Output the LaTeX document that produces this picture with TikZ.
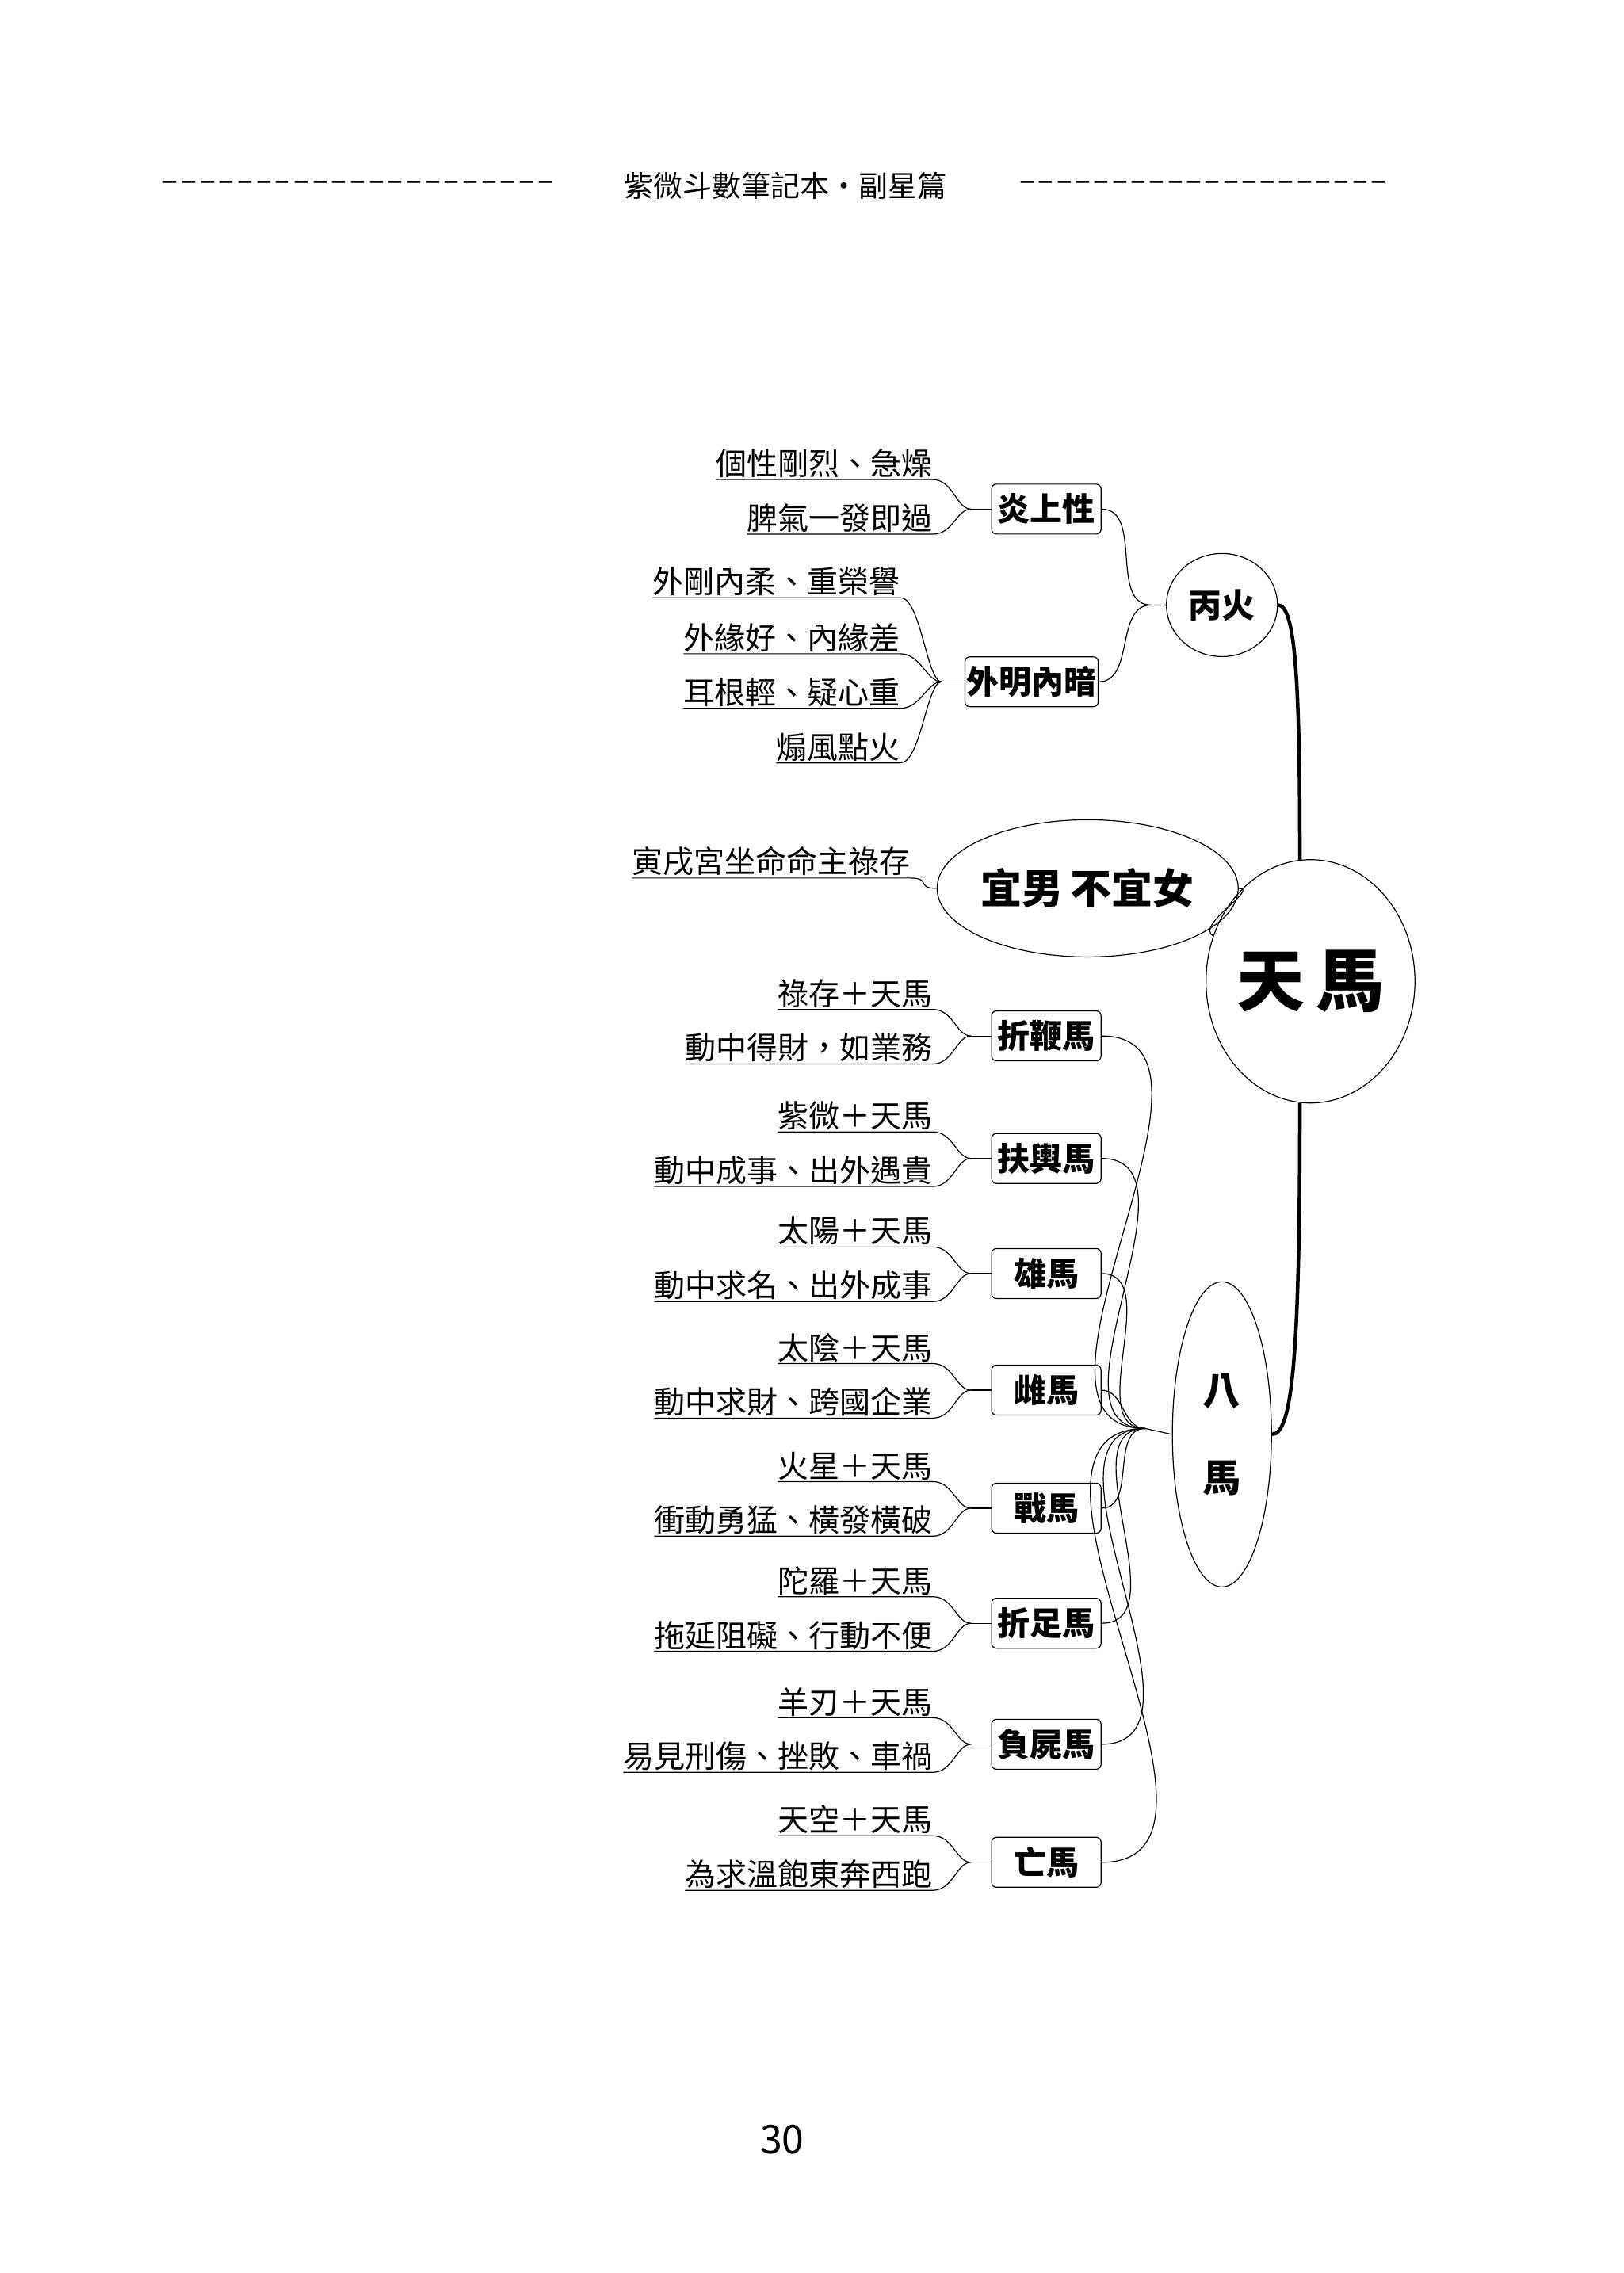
\documentclass[tikz,border=0pt]{standalone}
\usepackage{fontspec}
\setmainfont{Noto Sans CJK TC}
\newfontfamily\cjk{Noto Sans CJK TC}
\usetikzlibrary{shapes.geometric}
\tikzset{x=1.862pt,y=-1.862pt,
 leaf/.style={inner xsep=0pt,inner ysep=2pt,font=\fontsize{39}{42}\selectfont\cjk,anchor=south east},
 bx/.style={draw,line width=1.2pt,rounded corners=6pt,minimum width=138pt,minimum height=63pt,inner sep=2pt,font=\fontsize{41}{44}\selectfont\bfseries\cjk},
 ln/.style={line width=1.2pt},
 thk/.style={line width=4.5pt}}
\begin{document}
\begin{tikzpicture}
\useasboundingbox (0,0) rectangle (1100,1540.3);
% header
\node[font=\fontsize{37}{40}\selectfont\cjk] (hd) at (532,126) {紫微斗數筆記本・副星篇};
\node[anchor=east,inner sep=0pt,font=\fontsize{37}{40}\selectfont\cjk] (hl) at (376,126) {\makebox[497pt]{\xleaders\hbox to 23.6pt{\hss–\hss}\hfill}};
\node[anchor=west,inner sep=0pt,font=\fontsize{37}{40}\selectfont\cjk] (hr) at (690,126) {\makebox[466pt]{\xleaders\hbox to 23.3pt{\hss–\hss}\hfill}};
\node[font=\fontsize{50}{54}\selectfont\cjk] (pg) at (530,1450) {30};
% main nodes
\node[ellipse,draw,line width=1.2pt,minimum width=186pt,minimum height=307pt,inner sep=0pt,font=\fontsize{86}{90}\selectfont\bfseries\cjk] (tm) at (888,665) {天\,馬};
\node[ellipse,draw,line width=1.2pt,minimum width=140pt,minimum height=130pt,inner sep=0pt,font=\fontsize{42}{44}\selectfont\bfseries\cjk] (bh) at (828,410) {丙火};
\node[ellipse,draw,line width=1.2pt,minimum width=304pt,minimum height=173pt,inner sep=0pt,font=\fontsize{52}{54}\selectfont\bfseries\cjk] (ym) at (737,602) {宜男\,不宜女};
\node[ellipse,draw,line width=1.2pt,minimum width=125pt,minimum height=385pt,inner sep=0pt,align=center,font=\fontsize{48}{110}\selectfont\bfseries\cjk] (bm) at (828,972) {八\\馬};
\draw[thk] (bh.east) .. controls +(12,0) and +(0,-120) .. (tm.95);
\draw[thk] (tm.265) .. controls +(0,170) and +(14,0) .. (bm.east);
\draw[ln] (ym.east) to[out=0,in=150] (tm.155);
% 丙火 branch
\node[bx] (b01) at (709,345) {炎上性};
\node[bx] (b02) at (699,462) {外明內暗};
\coordinate (jb) at (780,410);
\draw[ln] (b01.east) to[out=0,in=180] (jb) -- (bh.west);
\draw[ln] (b02.east) to[out=0,in=180] (jb);
\coordinate (j01) at (658,345);
\draw[ln] (b01.west) -- (j01);
\node[leaf] (a1) at (632,325) {個性剛烈、急燥};
\node[leaf] (a2) at (632,362) {脾氣一發即過};
\foreach \n in {a1,a2}{\draw[ln] (j01) .. controls +(-10,0) and +(14,0) .. (\n.south east) -- (\n.south west);}
\coordinate (j02) at (638,462);
\draw[ln] (b02.west) -- (j02);
\node[leaf] (c1) at (610,405) {外剛內柔、重榮譽};
\node[leaf] (c2) at (610,443) {外緣好、內緣差};
\node[leaf] (c3) at (610,480) {耳根輕、疑心重};
\node[leaf] (c4) at (610,517) {煽風點火};
\foreach \n in {c1,c2,c3,c4}{\draw[ln] (j02) .. controls +(-10,0) and +(14,0) .. (\n.south east) -- (\n.south west);}
% 宜男不宜女 leaf
\node[leaf] (d1) at (617,595) {寅戌宮坐命命主祿存};
\draw[ln] (ym.west) .. controls +(-14,0) and +(14,0) .. (d1.south east) -- (d1.south west);
% 八馬 branch
\coordinate (jk) at (776,968);
\draw[ln] (jk) -- (bm.west);
\foreach \i/\y/\t/\u/\l in {
 1/702/折鞭馬/祿存＋天馬/動中得財，如業務,
 2/785/扶輿馬/紫微＋天馬/動中成事、出外遇貴,
 3/863/雄馬/太陽＋天馬/動中求名、出外成事,
 4/942/雌馬/太陰＋天馬/動中求財、跨國企業,
 5/1022/戰馬/火星＋天馬/衝動勇猛、橫發橫破,
 6/1100/折足馬/陀羅＋天馬/拖延阻礙、行動不便,
 7/1182/負屍馬/羊刃＋天馬/易見刑傷、挫敗、車禍,
 8/1262/亡馬/天空＋天馬/為求溫飽東奔西跑}{
 \node[bx] (b\i) at (709,\y) {\t};
 \draw[ln] (b\i.east) to[out=0,in=180] (jk);
 \coordinate (j\i) at (658,\y);
 \draw[ln] (b\i.west) -- (j\i);
 \node[leaf] (u\i) at (632,\y-18) {\u};
 \node[leaf] (l\i) at (632,\y+19) {\l};
 \draw[ln] (j\i) .. controls +(-10,0) and +(14,0) .. (u\i.south east) -- (u\i.south west);
 \draw[ln] (j\i) .. controls +(-10,0) and +(14,0) .. (l\i.south east) -- (l\i.south west);
}
\end{tikzpicture}
\end{document}
